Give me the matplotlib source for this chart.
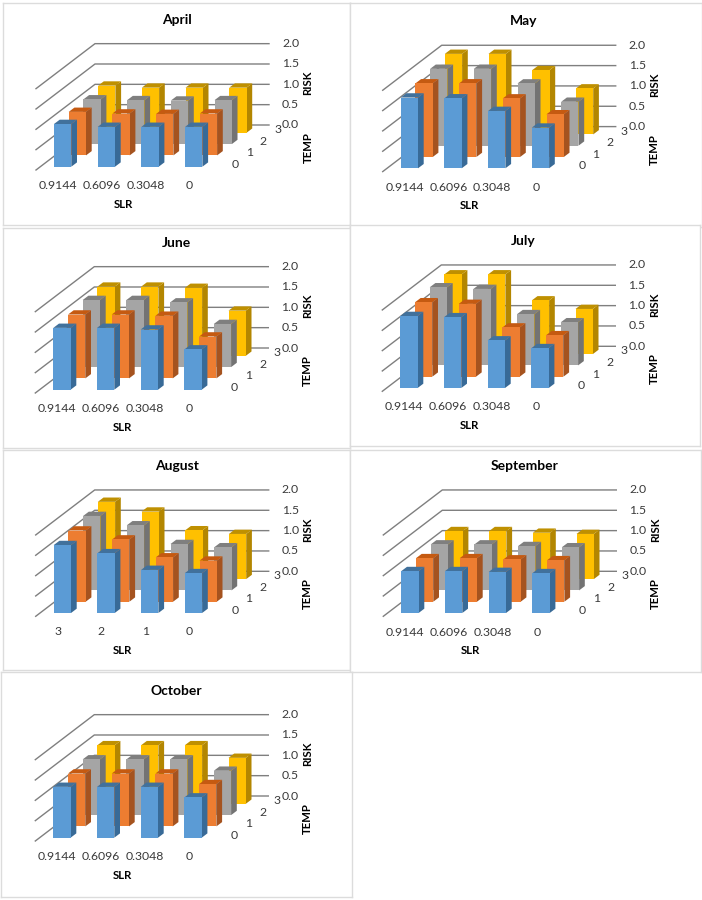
# Seven small 3D-look bar charts (RISK by SLR and TEMP), drawn as oblique 2D polygons
import matplotlib
matplotlib.use("Agg")
import matplotlib.pyplot as plt
from matplotlib.patches import Polygon

plt.rcParams['font.family'] = ['Lato', 'DejaVu Sans']

months = ["April", "May", "June", "July", "August", "September", "October"]
slr_labels = ["0.9144", "0.6096", "0.3048", "0"]
aug_slr_labels = ["3", "2", "1", "0"]
temp_labels = ["0", "1", "2", "3"]
risk_ticks = [0.0, 0.5, 1.0, 1.5, 2.0]

# rows are TEMP 0..3, columns follow the SLR labels
april = [[1.05, 0.98, 0.98, 0.98], [1.07, 1.03, 1.02, 1.03], [1.10, 1.08, 1.07, 1.08], [1.16, 1.11, 1.11, 1.11]]
may = [[1.74, 1.72, 1.41, 1.00], [1.81, 1.81, 1.44, 1.05], [1.89, 1.89, 1.53, 1.08], [1.98, 1.98, 1.58, 1.13]]
june = [[1.52, 1.52, 1.48, 0.99], [1.57, 1.57, 1.54, 1.03], [1.65, 1.65, 1.59, 1.06], [1.70, 1.70, 1.67, 1.11]]
july = [[1.77, 1.74, 1.17, 0.98], [1.83, 1.79, 1.21, 1.02], [1.92, 1.88, 1.26, 1.06], [1.96, 1.96, 1.32, 1.11]]
august = [[1.67, 1.47, 1.06, 0.98], [1.75, 1.53, 1.09, 1.01], [1.83, 1.60, 1.14, 1.06], [1.90, 1.66, 1.20, 1.11]]
september = [[1.03, 1.03, 1.01, 0.98], [1.07, 1.07, 1.04, 1.02], [1.13, 1.13, 1.09, 1.06], [1.18, 1.18, 1.14, 1.11]]
october = [[1.25, 1.25, 1.25, 0.99], [1.30, 1.30, 1.30, 1.04], [1.37, 1.37, 1.37, 1.09], [1.44, 1.44, 1.44, 1.13]]
all_values = [april, may, june, july, august, september, october]

# Panel frames (left, top, right, bottom) and the front corner of the first bar, in image pixels
frames = [(3, 3, 349.5, 225), (350, 3, 702, 226.5), (3, 228, 349.5, 448), (350, 225, 700, 446),
          (3, 450, 349.5, 670), (350, 450, 701, 672), (0.5, 672, 352, 897)]
origins = [(54, 166.7), (400.7, 168.3), (53.3, 389.7), (400.3, 388), (53.7, 613), (401.3, 613), (53.3, 837.7)]

# Front, side and top colours, one row per TEMP
faces = ["#5B9BD5", "#ED7D31", "#A5A5A5", "#FFC000"]
sides = ["#386A97", "#A5531F", "#737373", "#B38600"]
tops = ["#41719C", "#C55A11", "#7F7F7F", "#BF9000"]

unit = 40.67
bar_w, bar_dx, bar_dy = 17.3, 5.7, 4.3
step_x = 43.7
row_dx, row_dy = 14.7, 11.3
tick_size = 8.8
tick_color = "#3A3A3A"

W, H = 702, 900
fig = plt.figure(figsize=(W / 100, H / 100), dpi=100)

for month, values, frame, origin in zip(months, all_values, frames, origins):
    left, top, right, bottom = frame
    x0, y0 = origin
    ax = fig.add_axes([left / W, 1 - bottom / H, (right - left) / W, (bottom - top) / H])
    ax.set_xlim(left, right)
    ax.set_ylim(bottom, top)
    ax.set_xticks([])
    ax.set_yticks([])
    for s in ax.spines.values():
        s.set_color("#DCDCDC")
        s.set_linewidth(1)

    # Wall gridlines and RISK ticks
    for r in risk_ticks:
        yb = y0 - 41.7 - r * unit
        ax.plot([x0 - 18, x0 + 41, x0 + 215], [yb + 45, yb, yb], color="#7F7F7F", lw=1, zorder=1)
        ax.text(x0 + 228, yb, f"{r:.1f}", fontsize=tick_size, color=tick_color, va="center", ha="left")

    # Bars, back row first so the front rows cover them
    for row in range(3, -1, -1):
        for col in range(4):
            h = values[row][col] * unit
            xl = x0 + col * step_x + row * row_dx
            xr = xl + bar_w
            yb = y0 - row * row_dy
            yt = yb - h
            ax.add_patch(Polygon([(xr, yb), (xr + bar_dx, yb - bar_dy), (xr + bar_dx, yt - bar_dy), (xr, yt)],
                                 fc=sides[row], ec="none", zorder=2))
            ax.add_patch(Polygon([(xl, yt), (xr, yt), (xr + bar_dx, yt - bar_dy), (xl + bar_dx, yt - bar_dy)],
                                 fc=tops[row], ec="none", zorder=2))
            ax.add_patch(Polygon([(xl, yb), (xr, yb), (xr, yt), (xl, yt)],
                                 fc=faces[row], ec="none", zorder=2))

    # SLR labels
    labels = aug_slr_labels if month == "August" else slr_labels
    for i, lab in enumerate(labels):
        ax.text(x0 + 4 + i * step_x + 0.1 * i, y0 + 19, lab, fontsize=tick_size, color=tick_color, ha="center", va="center")

    # TEMP labels
    for i, lab in enumerate(temp_labels):
        ax.text(x0 + 181 + i * 14.2, y0 - 2.4 - i * 11.6, lab, fontsize=tick_size, color=tick_color, ha="center", va="center")

    ax.text(x0 + 123, y0 - 147, month, fontsize=10, fontweight="bold", color="black", ha="center", va="center")
    ax.text(x0 + 69, y0 + 37.5, "SLR", fontsize=8.2, fontweight="bold", color="black", ha="center", va="center")
    ax.text(x0 + 254, y0 - 83.5, "RISK", fontsize=8.2, fontweight="bold", color="black", rotation=90, ha="center", va="center")
    ax.text(x0 + 254, y0 - 19, "TEMP", fontsize=8.2, fontweight="bold", color="black", rotation=90, ha="center", va="center")

fig.savefig("out.png", dpi=100)
